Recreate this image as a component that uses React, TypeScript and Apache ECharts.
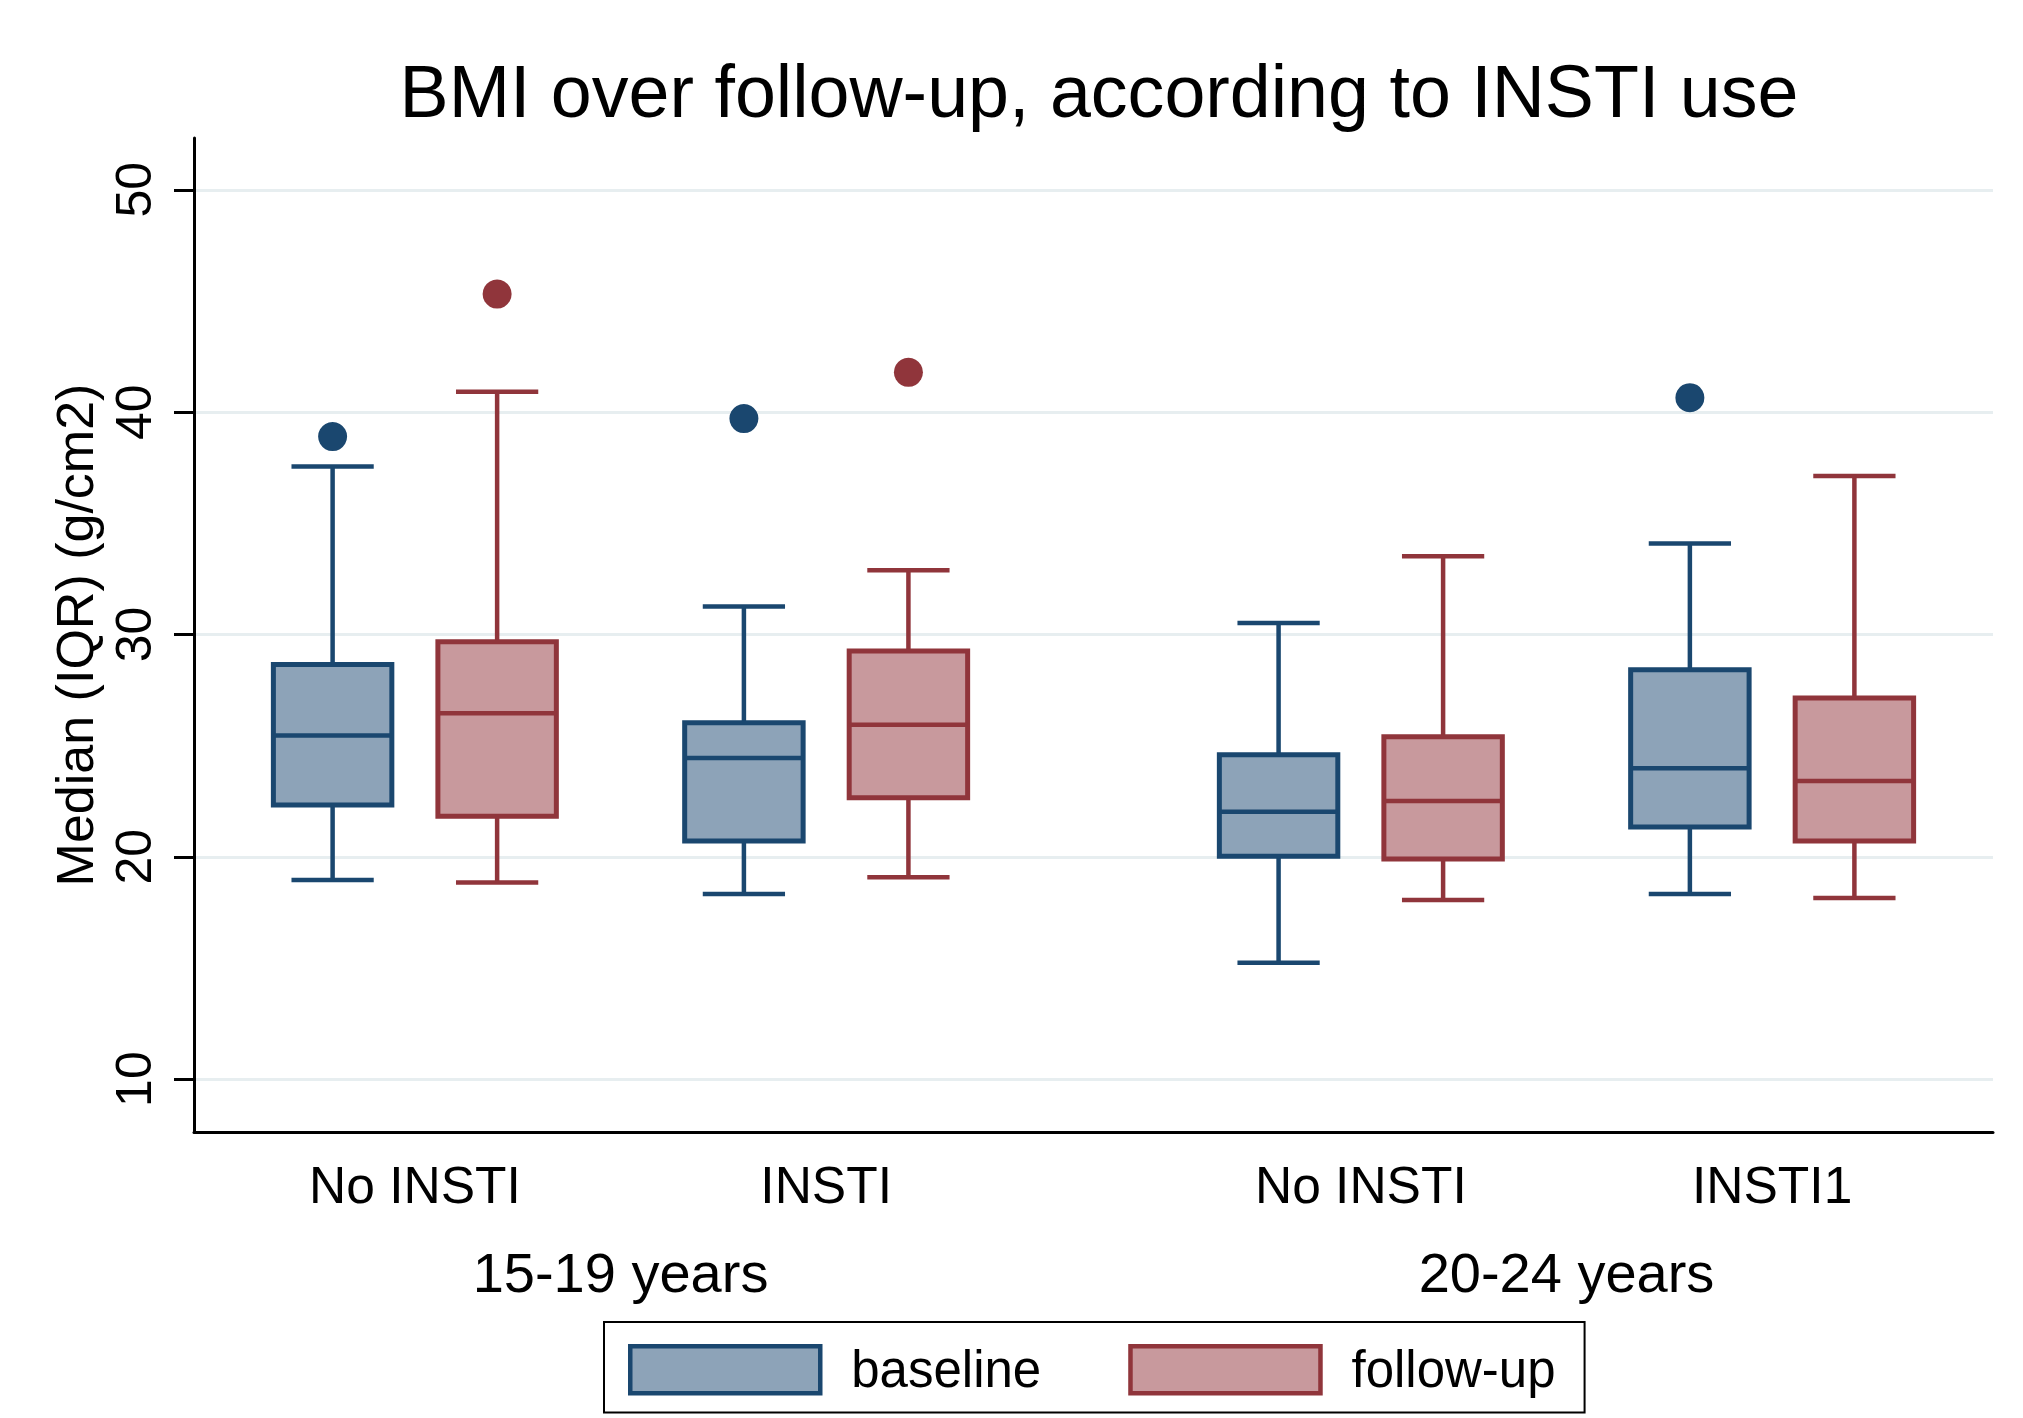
import React, { useEffect, useRef } from "react";
import * as echarts from "echarts";

const titleText = "BMI over follow-up, according to INSTI use";
const yAxisTitle = "Median (IQR) (g/cm2)";
const groupLabels = ["15-19 years", "20-24 years"];
const armLabels = [
  ["No INSTI", "INSTI"],
  ["No INSTI", "INSTI1"],
];
const seriesNames = ["baseline", "follow-up"];
const yTickValues = [10, 20, 30, 40, 50];

// [lower whisker, Q1, median, Q3, upper whisker], order: group1 arm1, group1 arm2, group2 arm1, group2 arm2
const baselineBoxes = [
  [18.96, 22.33, 25.46, 28.65, 37.55],
  [18.33, 20.71, 24.44, 26.03, 31.26],
  [15.23, 20.02, 22.03, 24.59, 30.51],
  [18.33, 21.34, 23.98, 28.41, 34.09],
];
const followupBoxes = [
  [18.84, 21.82, 26.45, 29.67, 40.92],
  [19.08, 22.66, 25.94, 29.25, 32.89],
  [18.06, 19.9, 22.51, 25.4, 33.52],
  [18.15, 20.71, 23.41, 27.14, 37.13],
];
const baselineOutliers = [[38.9], [39.71], [], [40.65]];
const followupOutliers = [[45.31], [41.79], [], []];

const FONT = "'Liberation Sans', Arial, Helvetica, sans-serif";
const NAVY = "#1A476F";
const NAVY_FILL = "#8DA3B8";
const MAROON = "#90353B";
const MAROON_FILL = "#C8999D";
const GRID_COLOR = "#E7EEF0";

// layout (slot units along a hidden value axis)
const GROUP_STEP = 23;
const ARM_STEP = 10;
const SERIES_STEP = 4;
const X_MIN = -3.37;
const X_MAX = 40.37;
const Y_MIN = 7.62;
const Y_MAX = 52.33;
const BOX_HALF = 1.44;
const CAP_HALF = 1.0;

const slotOf = (g: number, a: number, s: number) => g * GROUP_STEP + a * ARM_STEP + s * SERIES_STEP;

function boxData(boxes: number[][], s: number) {
  const out: number[][] = [];
  boxes.forEach((b, i) => {
    const g = Math.floor(i / 2);
    const a = i % 2;
    out.push([slotOf(g, a, s), ...b]);
  });
  return out;
}
function outlierData(outs: number[][], s: number) {
  const out: number[][] = [];
  outs.forEach((vals, i) => {
    const g = Math.floor(i / 2);
    const a = i % 2;
    vals.forEach((v) => out.push([slotOf(g, a, s), v]));
  });
  return out;
}

const makeRenderItem = (stroke: string, fill: string) => (params: any, api: any) => {
  const x = api.value(0);
  const lo = api.value(1);
  const q1 = api.value(2);
  const med = api.value(3);
  const q3 = api.value(4);
  const hi = api.value(5);
  const unit = api.size([1, 0])[0];
  const half = unit * BOX_HALF;
  const capHalf = unit * CAP_HALF;
  const [cx, yLo] = api.coord([x, lo]);
  const yQ1 = api.coord([x, q1])[1];
  const yMed = api.coord([x, med])[1];
  const yQ3 = api.coord([x, q3])[1];
  const yHi = api.coord([x, hi])[1];
  const ls = { stroke, lineWidth: 4.5, fill: null };
  return {
    type: "group",
    children: [
      { type: "line", shape: { x1: cx, y1: yQ3, x2: cx, y2: yHi }, style: ls },
      { type: "line", shape: { x1: cx - capHalf, y1: yHi, x2: cx + capHalf, y2: yHi }, style: ls },
      { type: "line", shape: { x1: cx, y1: yQ1, x2: cx, y2: yLo }, style: ls },
      { type: "line", shape: { x1: cx - capHalf, y1: yLo, x2: cx + capHalf, y2: yLo }, style: ls },
      {
        type: "rect",
        shape: { x: cx - half, y: yQ3, width: 2 * half, height: yQ1 - yQ3 },
        style: { fill, stroke, lineWidth: 5 },
      },
      { type: "line", shape: { x1: cx - half, y1: yMed, x2: cx + half, y2: yMed }, style: ls },
    ],
  };
};

export default function App() {
  const ref = useRef<HTMLDivElement>(null);
  useEffect(() => {
    document.body.style.margin = "0";
    if (!ref.current) return;
    const chart = echarts.init(ref.current, null, { renderer: "svg" });

    const armLabelMap = new Map<number, string>();
    const groupLabelMap = new Map<number, string>();
    groupLabels.forEach((gl, g) => {
      groupLabelMap.set(slotOf(g, 0, 0) + (ARM_STEP + SERIES_STEP) / 2, gl);
      armLabels[g].forEach((al, a) => {
        armLabelMap.set(slotOf(g, a, 0) + SERIES_STEP / 2, al);
      });
    });
    const armPositions = Array.from(armLabelMap.keys());
    const groupPositions = Array.from(groupLabelMap.keys());

    chart.setOption({
      animation: false,
      backgroundColor: "#ffffff",
      title: {
        text: titleText,
        left: 1099,
        top: 54,
        textAlign: "center",
        padding: 0,
        textStyle: { fontSize: 73.6, fontWeight: "normal", color: "#000", fontFamily: FONT },
      },
      legend: {
        left: 604,
        top: 1322,
        orient: "horizontal",
        selectedMode: false,
        padding: [22, 29, 17, 24],
        itemWidth: 190,
        itemHeight: 47,
        itemGap: 87,
        borderColor: "#000",
        borderWidth: 2,
        textStyle: { fontSize: 51, color: "#000", fontFamily: FONT, padding: [12, 0, 0, 26] },
        data: [
          { name: seriesNames[0], icon: "rect", itemStyle: { color: NAVY_FILL, borderColor: NAVY, borderWidth: 4.5 } },
          { name: seriesNames[1], icon: "rect", itemStyle: { color: MAROON_FILL, borderColor: MAROON, borderWidth: 4.5 } },
        ],
      },
      grid: { left: 194, right: 30, top: 138, bottom: 286, containLabel: false },
      xAxis: [
        {
          type: "value",
          min: X_MIN,
          max: X_MAX,
          axisLine: { show: true, onZero: false, lineStyle: { color: "#000", width: 3 } },
          axisTick: { show: false },
          splitLine: { show: false },
          axisLabel: {
            customValues: armPositions,
            formatter: (v: number) => armLabelMap.get(v) ?? "",
            fontSize: 51.5,
            color: "#000",
            fontFamily: FONT,
            margin: 27,
          },
        },
        {
          type: "value",
          min: X_MIN,
          max: X_MAX,
          position: "bottom",
          axisLine: { show: false },
          axisTick: { show: false },
          splitLine: { show: false },
          axisLabel: {
            customValues: groupPositions,
            formatter: (v: number) => groupLabelMap.get(v) ?? "",
            fontSize: 56,
            color: "#000",
            fontFamily: FONT,
            margin: 112,
          },
        },
      ],
      yAxis: {
        type: "value",
        min: Y_MIN,
        max: Y_MAX,
        name: yAxisTitle,
        nameLocation: "middle",
        nameGap: 92,
        nameTextStyle: { fontSize: 52, color: "#000", fontFamily: FONT },
        axisLine: { show: true, onZero: false, lineStyle: { color: "#000", width: 3 } },
        axisTick: { show: true, length: 20, lineStyle: { color: "#000", width: 3 }, customValues: yTickValues },
        axisLabel: {
          customValues: yTickValues,
          rotate: 90,
          fontSize: 50,
          margin: 35,
          color: "#000",
          fontFamily: FONT,
        },
        splitLine: { show: true, lineStyle: { color: GRID_COLOR, width: 3 } },
      },
      series: [
        {
          name: seriesNames[0],
          type: "custom",
          renderItem: makeRenderItem(NAVY, NAVY_FILL),
          encode: { x: 0, y: [1, 2, 3, 4, 5] },
          itemStyle: { color: NAVY_FILL, borderColor: NAVY, borderWidth: 4.5 },
          data: boxData(baselineBoxes, 0),
          z: 3,
        },
        {
          name: seriesNames[1],
          type: "custom",
          renderItem: makeRenderItem(MAROON, MAROON_FILL),
          encode: { x: 0, y: [1, 2, 3, 4, 5] },
          itemStyle: { color: MAROON_FILL, borderColor: MAROON, borderWidth: 4.5 },
          data: boxData(followupBoxes, 1),
          z: 3,
        },
        {
          name: "baseline outliers",
          type: "scatter",
          symbol: "circle",
          symbolSize: 29,
          itemStyle: { color: NAVY, opacity: 1 },
          data: outlierData(baselineOutliers, 0),
          z: 4,
        },
        {
          name: "follow-up outliers",
          type: "scatter",
          symbol: "circle",
          symbolSize: 29,
          itemStyle: { color: MAROON, opacity: 1 },
          data: outlierData(followupOutliers, 1),
          z: 4,
        },
      ],
    });
    return () => chart.dispose();
  }, []);
  return <div ref={ref} style={{ width: 2023, height: 1418 }} />;
}
